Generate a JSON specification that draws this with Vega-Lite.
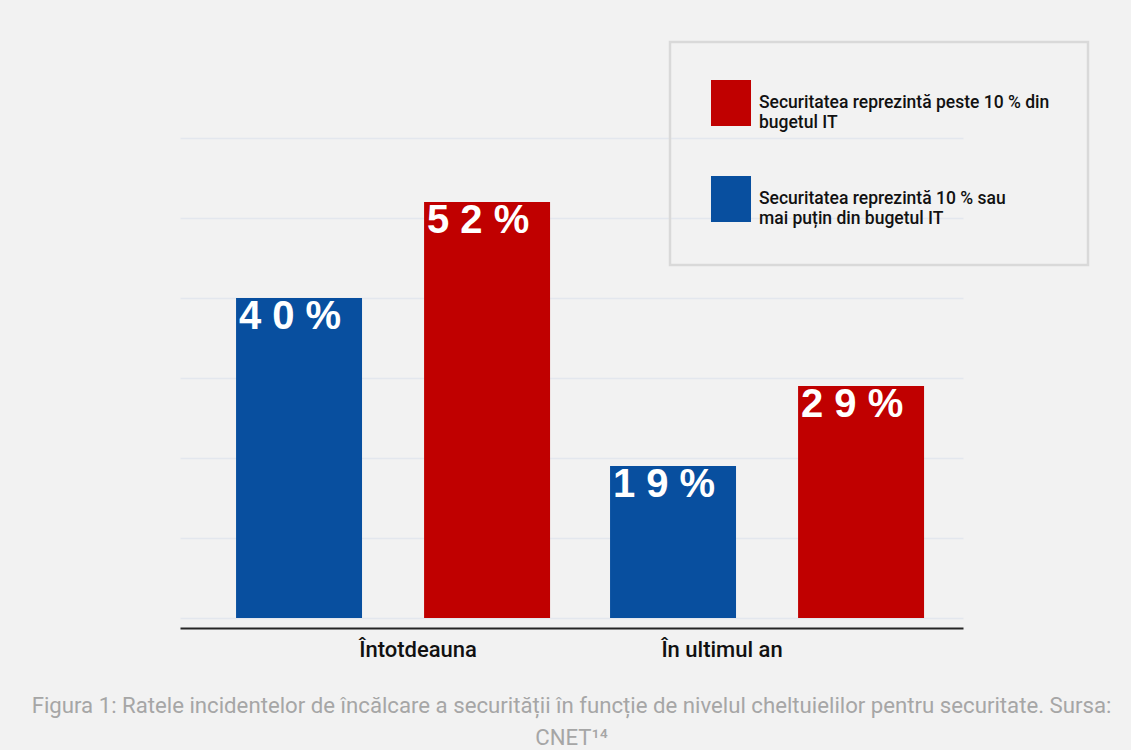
{
  "$schema": "https://vega.github.io/schema/vega-lite/v6.json",
  "autosize": {"type": "none"},
  "padding": {"left": 180, "top": 138, "right": 168, "bottom": 132},
  "width": 783,
  "height": 480,
  "background": "#f2f2f2",
  "config": {"view": {"stroke": null}},
  "data": {
    "values": [
      {"period": "Întotdeauna", "series": "Securitatea reprezintă 10 % sau mai puțin din bugetul IT", "value": 40, "label": "4 0 %"},
      {"period": "Întotdeauna", "series": "Securitatea reprezintă peste 10 % din bugetul IT", "value": 52, "label": "5 2 %"},
      {"period": "În ultimul an", "series": "Securitatea reprezintă 10 % sau mai puțin din bugetul IT", "value": 19, "label": "1 9 %"},
      {"period": "În ultimul an", "series": "Securitatea reprezintă peste 10 % din bugetul IT", "value": 29, "label": "2 9 %"}
    ]
  },
  "title": {
    "text": ["Figura 1: Ratele incidentelor de încălcare a securității în funcție de nivelul cheltuielilor pentru securitate. Sursa:", "CNET¹⁴"],
    "orient": "bottom",
    "anchor": "middle",
    "font": "Roboto",
    "fontSize": 22.2,
    "fontWeight": "normal",
    "color": "#a6a6a6",
    "lineHeight": 32,
    "offset": 35
  },
  "encoding": {
    "x": {
      "field": "period",
      "type": "nominal",
      "sort": ["Întotdeauna", "În ultimul an"],
      "scale": {"paddingInner": 0.1604, "paddingOuter": 0.127, "align": 0.59},
      "axis": {
        "title": null,
        "offset": 10,
        "domainColor": "#262626",
        "domainWidth": 2,
        "ticks": false,
        "labelAngle": 0,
        "labelFont": "Roboto",
        "labelFontSize": 22,
        "labelFontWeight": 500,
        "labelColor": "#111111",
        "labelPadding": 11,
        "labelOffset": {"expr": "datum.label == 'Întotdeauna' ? 25 : -45"}
      }
    },
    "xOffset": {
      "field": "series",
      "type": "nominal",
      "sort": ["Securitatea reprezintă 10 % sau mai puțin din bugetul IT", "Securitatea reprezintă peste 10 % din bugetul IT"],
      "scale": {"paddingInner": 0.33, "paddingOuter": 0}
    },
    "y": {
      "field": "value",
      "type": "quantitative",
      "scale": {"domain": [0, 60], "nice": false},
      "axis": {
        "title": null,
        "values": [0, 10, 20, 30, 40, 50, 60],
        "grid": true,
        "gridColor": "#e3e7ee",
        "gridWidth": 1.5,
        "ticks": false,
        "labels": false,
        "domain": false
      }
    }
  },
  "layer": [
    {
      "mark": {"type": "bar"},
      "encoding": {
        "color": {
          "field": "series",
          "type": "nominal",
          "scale": {
            "domain": ["Securitatea reprezintă peste 10 % din bugetul IT", "Securitatea reprezintă 10 % sau mai puțin din bugetul IT"],
            "range": ["#c00000", "#084f9f"]
          },
          "legend": {
            "title": null,
            "orient": "none",
            "legendX": 490,
            "legendY": -96,
            "direction": "vertical",
            "symbolType": "M-0.87,-1H0.87V1H-0.87Z",
            "symbolSize": 2116,
            "symbolStrokeWidth": 0,
            "symbolOpacity": 1,
            "labelFont": "Roboto",
            "labelFontSize": 17.5,
            "labelFontWeight": 500,
            "labelColor": "#111111",
            "labelLimit": 500,
            "labelOffset": 5,
            "labelBaseline": "middle",
            "labelLineHeight": 25,
            "labelExpr": "datum.label == 'Securitatea reprezintă peste 10 % din bugetul IT' ? ['Securitatea reprezintă peste 10 % din', 'bugetul IT'] : ['Securitatea reprezintă 10 % sau', 'mai puțin din bugetul IT']",
            "rowPadding": 45,
            "padding": 38,
            "strokeColor": "#d9d9d9",
            "encode": {"legend": {"update": {"strokeWidth": {"value": 2.5}}}}
          }
        }
      }
    },
    {
      "mark": {
        "type": "text",
        "align": "center",
        "baseline": "alphabetic",
        "dx": -9,
        "dy": 31,
        "font": "Liberation Sans",
        "fontSize": 40,
        "fontWeight": "bold",
        "color": "#ffffff"
      },
      "encoding": {
        "text": {"field": "label"}
      }
    }
  ]
}
